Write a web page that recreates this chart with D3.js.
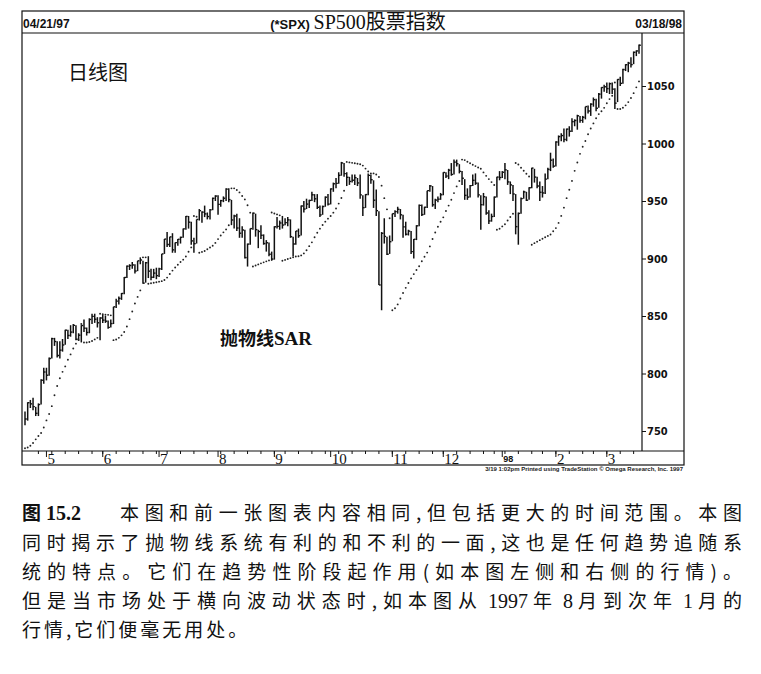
<!DOCTYPE html>
<html>
<head>
<meta charset="utf-8">
<script src="https://cdn.jsdelivr.net/npm/d3@7"></script>
<style>
  body { margin: 0; background: #fff; }
  svg { display: block; }
</style>
</head>
<body>
<svg id="chart" width="761" height="674"></svg>
<script>
"use strict";

// SPX daily bars, 04/21/97 - 03/18/98

let monthKeys = ['1997-04', '1997-05', '1997-06', '1997-07', '1997-08', '1997-09',
  '1997-10', '1997-11', '1997-12', '1998-01', '1998-02', '1998-03'];

let monthDays = [
  [21, 22, 23, 24, 25, 28, 29, 30],
  [1, 2, 5, 6, 7, 8, 9, 12, 13, 14, 15, 16, 19, 20, 21, 22, 23, 27, 28, 29, 30],
  [2, 3, 4, 5, 6, 9, 10, 11, 12, 13, 16, 17, 18, 19, 20, 23, 24, 25, 26, 27, 30],
  [1, 2, 3, 7, 8, 9, 10, 11, 14, 15, 16, 17, 18, 21, 22, 23, 24, 25, 28, 29, 30, 31],
  [1, 4, 5, 6, 7, 8, 11, 12, 13, 14, 15, 18, 19, 20, 21, 22, 25, 26, 27, 28, 29],
  [2, 3, 4, 5, 8, 9, 10, 11, 12, 15, 16, 17, 18, 19, 22, 23, 24, 25, 26, 29, 30],
  [1, 2, 3, 6, 7, 8, 9, 10, 13, 14, 15, 16, 17, 20, 21, 22, 23, 24, 27, 28, 29, 30, 31],
  [3, 4, 5, 6, 7, 10, 11, 12, 13, 14, 17, 18, 19, 20, 21, 24, 25, 26, 28],
  [1, 2, 3, 4, 5, 8, 9, 10, 11, 12, 15, 16, 17, 18, 19, 22, 23, 24, 26, 29, 30, 31],
  [2, 5, 6, 7, 8, 9, 12, 13, 14, 15, 16, 20, 21, 22, 23, 26, 27, 28, 29, 30],
  [2, 3, 4, 5, 6, 9, 10, 11, 12, 13, 17, 18, 19, 20, 23, 24, 25, 26, 27],
  [2, 3, 4, 5, 6, 9, 10, 11, 12, 13, 16, 17, 18]
];

let closes = [
  760.4, 774.6, 773.6, 771.2, 765.4, 773.0, 794.1, 801.3,
  798.5, 813.0, 830.3, 827.8, 815.6, 820.3, 824.8, 837.7, 833.1, 836.0, 841.9, 829.8, 833.3, 841.7, 839.4, 835.7, 847.0, 849.7, 847.2, 844.1, 848.3,
  846.4, 845.5, 840.1, 843.4, 858.0, 862.9, 865.3, 869.6, 883.5, 893.3, 893.9, 894.4, 889.1, 898.0, 898.7, 878.6, 896.3, 889.0, 883.7, 887.3, 885.1,
  891.0, 904.0, 916.9, 912.2, 918.8, 907.5, 913.8, 916.7, 918.4, 925.8, 936.6, 931.6, 915.3, 912.9, 934.0, 941.6, 940.3, 938.8, 936.5, 942.3, 952.3, 954.3,
  947.1, 950.3, 952.4, 960.3, 951.2, 933.5, 937.0, 926.5, 922.0, 924.8, 900.8, 912.5, 926.0, 939.4, 925.1, 923.5, 920.2, 913.0, 913.7, 903.7, 899.5,
  927.6, 927.9, 930.9, 929.1, 931.2, 933.6, 919.0, 912.6, 923.9, 919.8, 945.6, 943.0, 947.3, 950.5, 955.4, 951.9, 944.5, 937.9, 945.2, 953.3, 947.3,
  960.5, 965.0, 965.3, 972.3, 983.1, 973.8, 970.6, 967.0, 968.1, 970.3, 965.7, 955.3, 944.2, 955.6, 972.3, 968.5, 950.7, 941.6, 877.0, 921.9, 919.2, 903.7, 914.6,
  939.0, 940.8, 942.8, 938.0, 927.5, 921.1, 923.8, 906.0, 916.7, 928.4, 946.2, 938.2, 944.6, 959.0, 963.1, 946.7, 950.8, 951.6, 955.4,
  974.8, 971.7, 976.8, 973.1, 983.8, 982.4, 975.8, 969.8, 954.9, 953.4, 963.4, 968.0, 965.5, 955.3, 946.8, 953.7, 939.6, 932.7, 936.5, 953.4, 970.8, 970.4,
  975.0, 977.1, 966.6, 964.0, 956.1, 927.7, 939.2, 952.1, 957.9, 950.7, 961.5, 978.6, 970.8, 963.0, 957.6, 957.0, 969.0, 977.5, 985.5, 980.3,
  1001.3, 1006.0, 1006.9, 1003.5, 1012.5, 1010.7, 1019.0, 1020.0, 1024.1, 1020.1, 1022.8, 1032.1, 1028.3, 1034.2, 1038.1, 1030.6, 1042.9, 1048.7, 1049.3,
  1047.7, 1052.0, 1047.3, 1035.1, 1055.7, 1052.3, 1064.3, 1068.5, 1069.9, 1068.6, 1079.3, 1080.5, 1085.5
];

let highs = [
  767, 775, 777, 779, 771, 774, 795, 805,
  805, 814, 831, 831, 828, 828, 830, 838, 838, 842, 843, 842, 835, 842, 847, 840, 848, 852, 852, 849, 849,
  851, 850, 846, 847, 858, 865, 867, 870, 884, 894, 895, 897, 895, 898, 901, 898, 897, 902, 891, 891, 892,
  892, 904, 917, 923, 919, 922, 914, 917, 919, 926, 937, 937, 932, 918, 934, 943, 941, 946, 940, 943, 953, 955,
  955, 951, 954, 961, 961, 951, 938, 939, 935, 928, 925, 913, 926, 940, 939, 925, 929, 921, 916, 914, 906,
  928, 936, 933, 937, 935, 936, 934, 919, 924, 926, 946, 950, 952, 951, 958, 956, 956, 946, 946, 954, 956,
  961, 966, 970, 975, 984, 983, 975, 971, 973, 973, 970, 973, 955, 956, 974, 973, 968, 960, 941, 923, 935, 919, 920,
  939, 942, 945, 943, 938, 932, 925, 924, 917, 929, 947, 947, 945, 959, 964, 963, 952, 954, 957,
  975, 975, 978, 983, 986, 986, 982, 976, 969, 961, 964, 973, 974, 966, 955, 957, 954, 942, 939, 954, 971, 976,
  976, 983, 977, 967, 964, 956, 940, 953, 959, 958, 962, 979, 978, 971, 967, 963, 974, 979, 992, 987,
  1002, 1007, 1009, 1013, 1013, 1015, 1022, 1021, 1025, 1024, 1024, 1032, 1033, 1035, 1040, 1039, 1044, 1049, 1051,
  1053, 1053, 1053, 1048, 1056, 1058, 1065, 1069, 1071, 1075, 1080, 1081, 1086
];

let lows = [
  755, 759, 770, 768, 763, 763, 773, 791,
  794, 798, 813, 824, 814, 813, 819, 825, 830, 832, 835, 829, 829, 827, 836, 833, 835, 843, 844, 840, 829,
  844, 844, 839, 840, 843, 857, 860, 864, 869, 883, 890, 891, 887, 889, 895, 878, 879, 883, 881, 883, 882,
  884, 890, 904, 910, 910, 905, 905, 911, 913, 918, 925, 926, 912, 905, 913, 933, 931, 936, 934, 934, 942, 950,
  938, 945, 949, 950, 949, 929, 926, 924, 918, 918, 900, 893, 912, 925, 919, 909, 917, 912, 906, 902, 898,
  899, 926, 925, 926, 929, 928, 918, 902, 912, 918, 920, 940, 943, 944, 950, 949, 943, 936, 938, 945, 946,
  947, 958, 961, 965, 972, 971, 963, 964, 966, 964, 963, 952, 937, 944, 955, 965, 944, 937, 877, 855, 913, 903, 904,
  915, 936, 939, 934, 918, 920, 920, 904, 900, 916, 928, 937, 938, 944, 958, 945, 943, 949, 951,
  955, 970, 969, 972, 973, 980, 974, 964, 951, 951, 953, 963, 964, 953, 925, 946, 938, 930, 932, 936, 953, 968,
  970, 969, 964, 956, 950, 921, 912, 939, 952, 950, 951, 961, 966, 961, 950, 953, 956, 969, 976, 979,
  980, 998, 1002, 1001, 1002, 1006, 1010, 1015, 1012, 1018, 1018, 1021, 1026, 1024, 1032, 1028, 1031, 1039, 1045,
  1044, 1043, 1043, 1030, 1036, 1050, 1052, 1063, 1062, 1066, 1069, 1076, 1078
];

let priceTicks = [750, 800, 850, 900, 950, 1000, 1050];
let monthLabels = ['5', '6', '7', '8', '9', '10', '11', '12', '98', '2', '3'];

// parabolic SAR settings (first value)
let sarStart = 735;
let afStep = 0.02;
let afMax = 0.2;

let captionLines = [
  '同时揭示了抛物线系统有利的和不利的一面,这也是任何趋势追随系',
  '统的特点。它们在趋势性阶段起作用(如本图左侧和右侧的行情)。',
  '但是当市场处于横向波动状态时,如本图从 1997 年 8 月到次年 1 月的',
  '行情,它们便毫无用处。'
];

// ---------------------------------------------------------------

let dates = [];
monthKeys.forEach((k, m) => {
  monthDays[m].forEach((d) => dates.push(new Date(`${k}-${String(d).padStart(2, '0')}T12:00:00`)));
});

let bars = dates.map((d, i) => ({ date: d, i: i, h: highs[i], l: lows[i], c: closes[i] }));

function parabolicSar(data) {
  let out = [];
  let long = true, sar = sarStart, ep = data[0].h, af = afStep;
  out.push(sar);
  for (let i = 1; i < data.length; i++) {
    let next = sar + af * (ep - sar);
    if (long) {
      next = Math.min(next, data[i - 1].l, i > 1 ? data[i - 2].l : data[i - 1].l);
      if (data[i].l < next) {
        long = false; next = ep; ep = data[i].l; af = afStep;
      } else if (data[i].h > ep) {
        ep = data[i].h; af = Math.min(af + afStep, afMax);
      }
    } else {
      next = Math.max(next, data[i - 1].h, i > 1 ? data[i - 2].h : data[i - 1].h);
      if (data[i].h > next) {
        long = true; next = ep; ep = data[i].h; af = afStep;
      } else if (data[i].l < ep) {
        ep = data[i].l; af = Math.min(af + afStep, afMax);
      }
    }
    sar = next;
    out.push(sar);
  }
  return out;
}
let sarValues = parabolicSar(bars);

let frame = { left: 22, right: 684, top: 11, head: 33, plotRight: 642, plotBottom: 451, bottom: 465 };

let svg = d3.select('#chart');

let x = d3.scaleLinear().domain([0, bars.length - 1]).range([25, 639]);
let y = d3.scaleLinear().domain([750, 1050]).range([431, 86]);

// frame
let g = svg.append('g').attr('stroke', '#111').attr('fill', 'none').attr('stroke-width', 1.2);
g.append('rect')
  .attr('x', frame.left).attr('y', frame.top)
  .attr('width', frame.right - frame.left).attr('height', frame.bottom - frame.top);
g.append('line').attr('x1', frame.left).attr('x2', frame.right).attr('y1', frame.head).attr('y2', frame.head);
g.append('line').attr('x1', frame.left).attr('x2', frame.right).attr('y1', frame.plotBottom).attr('y2', frame.plotBottom);
g.append('line').attr('x1', frame.plotRight).attr('x2', frame.plotRight).attr('y1', frame.head).attr('y2', frame.plotBottom);

// header
let sans = "'Liberation Sans', Arial, sans-serif";
let serif = "'Liberation Serif', 'Times New Roman', serif";
let cjk = "'Noto Sans CJK SC', sans-serif";

svg.append('text').attr('x', 23).attr('y', 28)
  .style('font', `bold 12px ${sans}`).attr('fill', '#111').text('04/21/97');
svg.append('text').attr('x', 682).attr('y', 28).attr('text-anchor', 'end')
  .style('font', `bold 12px ${sans}`).attr('fill', '#111').text('03/18/98');
let title = svg.append('text').attr('x', 358).attr('y', 29).attr('text-anchor', 'middle').attr('fill', '#111');
title.append('tspan').style('font', `bold 13px ${sans}`).text('(*SPX) ');
title.append('tspan').style('font', `20px ${serif}`).text('SP500');
title.append('tspan').style('font', `20px ${cjk}`).text('股票指数');

// right price axis
let yAxis = d3.axisRight(y).tickValues(priceTicks).tickSize(4).tickPadding(1).tickFormat(d3.format('d'));
let ya = svg.append('g').attr('transform', `translate(${frame.plotRight},0)`).call(yAxis);
ya.select('.domain').remove();
ya.selectAll('line').attr('stroke', '#111');
ya.selectAll('text').attr('fill', '#111')
  .style('font', `bold 11px 'Liberation Sans Narrow', 'DejaVu Sans Condensed', ${sans}`);

// bottom date strip: weekly and month ticks
let weekStarts = bars.filter((b, i) => i > 0 && b.date.getDay() < bars[i - 1].date.getDay());
let monthStarts = bars.filter((b, i) => i > 0 && b.date.getMonth() !== bars[i - 1].date.getMonth());

svg.append('g').selectAll('line').data(weekStarts).join('line')
  .attr('x1', (d) => x(d.i)).attr('x2', (d) => x(d.i))
  .attr('y1', frame.plotBottom).attr('y2', frame.plotBottom + 3)
  .attr('stroke', '#111').attr('stroke-width', 1);

svg.append('g').selectAll('line').data(monthStarts).join('line')
  .attr('x1', (d) => x(d.i)).attr('x2', (d) => x(d.i))
  .attr('y1', frame.plotBottom).attr('y2', frame.plotBottom + 6)
  .attr('stroke', '#111').attr('stroke-width', 1);

svg.append('g').selectAll('text').data(monthStarts).join('text')
  .attr('x', (d) => x(d.i) + 1)
  .attr('y', (d, i) => monthLabels[i] === '98' ? 462 : 464)
  .attr('fill', '#111')
  .style('font', (d, i) => monthLabels[i] === '98' ? `bold 9px ${sans}` : `15px ${serif}`)
  .text((d, i) => monthLabels[i]);

svg.append('text').attr('x', 683).attr('y', 471).attr('text-anchor', 'end')
  .attr('fill', '#222').style('font', `bold 6px ${sans}`)
  .text('3/19  1:02pm Printed using TradeStation © Omega Research, Inc. 1997');

// price bars
let plot = svg.append('g');
plot.selectAll('line.hl').data(bars).join('line').attr('class', 'hl')
  .attr('x1', (d) => x(d.i)).attr('x2', (d) => x(d.i))
  .attr('y1', (d) => y(d.h)).attr('y2', (d) => y(d.l))
  .attr('stroke', '#111').attr('stroke-width', 1.5);
plot.selectAll('line.cl').data(bars).join('line').attr('class', 'cl')
  .attr('x1', (d) => x(d.i)).attr('x2', (d) => x(d.i) + 1.8)
  .attr('y1', (d) => y(d.c)).attr('y2', (d) => y(d.c))
  .attr('stroke', '#111').attr('stroke-width', 1.4);

// SAR dots
plot.selectAll('circle').data(sarValues).join('circle')
  .attr('cx', (d, i) => x(i)).attr('cy', (d) => y(d))
  .attr('r', 0.95).attr('fill', '#222');

// notes inside the chart
svg.append('text').attr('x', 68).attr('y', 80).attr('fill', '#111')
  .style('font', `20px ${cjk}`).text('日线图');
let sarNote = svg.append('text').attr('x', 220).attr('y', 345).attr('fill', '#111');
sarNote.append('tspan').style('font', `bold 18px ${cjk}`).text('抛物线');
sarNote.append('tspan').style('font', `bold 19px ${serif}`).text('SAR');

// caption: digits in serif, Chinese runs spaced out to justify the line
let cap = svg.append('g').attr('fill', '#111');
let numRun = /^[0-9. ]+$/;

function captionLine(str, x0, y0, width) {
  let t = cap.append('text').attr('x', x0).attr('y', y0);
  let runs = str.match(/[0-9. ]+|[^0-9. ]+/g);
  runs.forEach((r) => {
    let isNum = numRun.test(r);
    t.append('tspan').attr('class', isNum ? 'num' : 'han')
      .style('font', isNum ? `20px ${serif}` : `19px ${cjk}`).text(r);
  });
  if (width) {
    let natural = t.node().getComputedTextLength();
    let han = runs.filter((r) => !numRun.test(r)).join('').length;
    let extra = (width - natural) / Math.max(1, han - 1);
    t.selectAll('tspan.han').style('letter-spacing', `${extra}px`);
  } else {
    t.selectAll('tspan.han').style('letter-spacing', '3px');
  }
  return t;
}

let first = cap.append('text').attr('x', 22).attr('y', 520);
first.append('tspan').style('font', `bold 19px ${cjk}`).text('图');
first.append('tspan').style('font', `bold 20px ${serif}`).text(' 15.2');
captionLine('本图和前一张图表内容相同,但包括更大的时间范围。本图', 120, 520, 622);

captionLines.forEach((line, i) => {
  captionLine(line, 22, 550 + i * 29, i < 3 ? 720 : null);
});
</script>
</body>
</html>
